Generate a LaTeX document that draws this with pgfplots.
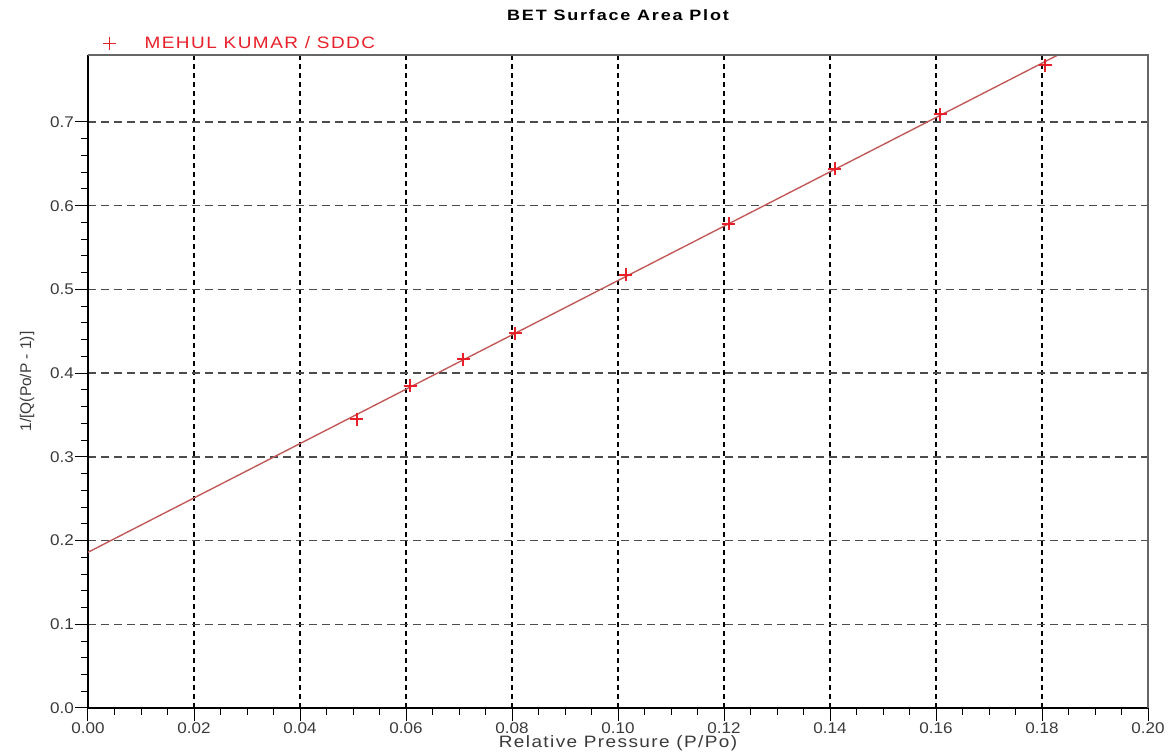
\documentclass[border=0pt]{standalone}
\usepackage{fontspec}
\setmainfont{Liberation Sans}
\newfontfamily\titlefont[FakeStretch=1.2, LetterSpace=12]{Liberation Sans}
\newfontfamily\legfont[FakeStretch=1.15, LetterSpace=9]{Liberation Sans}
\newfontfamily\labfont[FakeStretch=1.15, LetterSpace=8.5]{Liberation Sans}
\newfontfamily\tickfont[FakeStretch=1.1]{Liberation Sans}
\usepackage{pgfplots}
\pgfplotsset{compat=1.18}

\definecolor{ptred}{HTML}{E8202A}
\definecolor{fitred}{HTML}{C25A5A}
\definecolor{ticktxt}{HTML}{3A3A3A}

\begin{document}
\begin{tikzpicture}
  \begin{axis}[
      name=ax,
      scale only axis,
      width=1060pt, height=653pt,
      xmin=0, xmax=0.2,
      ymin=0, ymax=0.78,
      xtick={0,0.02,...,0.2},
      ytick={0,0.1,...,0.7},
      minor x tick num=3,
      minor y tick num=4,
      axis lines=left,
      axis line style={black, line width=1.3pt, -},
      tick pos=left,
      tick align=outside,
      major tick length=13pt,
      minor tick length=7pt,
      every tick/.style={black, line width=1pt},
      xmajorgrids, ymajorgrids,
      x grid style={black, line width=1.2pt, dash pattern=on 5pt off 4pt},
      y grid style={gray!60!black, line width=1.4pt, dash pattern=on 8pt off 5pt},
      /pgf/number format/assume math mode=true,
      xticklabel style={/pgf/number format/fixed, /pgf/number format/precision=2,
        /pgf/number format/fixed zerofill, inner sep=1pt},
      yticklabel style={/pgf/number format/fixed, /pgf/number format/precision=1,
        /pgf/number format/fixed zerofill, inner sep=1pt},
      scaled x ticks=false, scaled y ticks=false,
      tick label style={font=\tickfont\fontsize{15.5}{17}\selectfont, text=ticktxt},
      xlabel={Relative Pressure (P/Po)},
      ylabel={1/[Q(Po/P - 1)]},
      label style={text=ticktxt},
      xlabel style={font=\labfont\fontsize{16.5}{18}\selectfont, at={(axis description cs:0.5,-0.054)}, anchor=center},
      ylabel style={font=\fontsize{15.5}{17}\selectfont, at={(axis description cs:-0.0575,0.5)}, anchor=center},
      title={BET Surface Area Plot},
      title style={font=\titlefont\bfseries\fontsize{15}{17}\selectfont, at={(axis description cs:0.5,1.052)}, anchor=center},
      legend style={draw=none, fill=none, at={(axis description cs:0.006,1.004)},
        anchor=south west, font=\legfont\fontsize{16.5}{18}\selectfont, text=ptred,
        inner sep=0pt},
      legend image code/.code={%
        \path[draw=none] (0pt,0pt) -- (48pt,0pt);
        \draw[ptred, line width=1.6pt] (8.5pt,0pt) -- (21.5pt,0pt) (15pt,-6.5pt) -- (15pt,6.5pt);},
      clip=false,
    ]
    % fitted BET line
    \addplot[fitred, line width=1.4pt, forget plot] coordinates {
      (0.0, 0.186)
      (0.183, 0.780)
    };
    % measured points
    \addplot[only marks, mark=+, mark size=6.5pt, ptred, mark options={line width=1.6pt}] coordinates {
      (0.0507, 0.345)
      (0.0608, 0.3847)
      (0.0708, 0.4166)
      (0.0806, 0.4477)
      (0.1015, 0.5173)
      (0.1209, 0.5783)
      (0.1409, 0.6440)
      (0.1608, 0.7093)
      (0.1806, 0.7680)
    };
    \addlegendentry{MEHUL KUMAR / SDDC}
    % frame: top and right sides
    \draw[gray!80!black, line width=1.3pt] (rel axis cs:0,1) -- (rel axis cs:1,1) -- (rel axis cs:1,0);
  \end{axis}
  \pgfresetboundingbox
  \path (-88pt,-46pt) rectangle (1082pt,708pt);
\end{tikzpicture}
\end{document}
